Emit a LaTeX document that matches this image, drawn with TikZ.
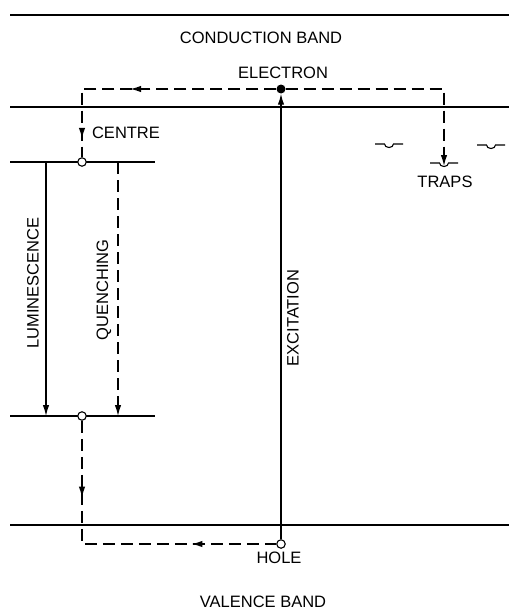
\documentclass[tikz,border=0pt]{standalone}
\usepackage{fontspec}
\setmainfont{Liberation Sans}
\usetikzlibrary{arrows.meta,decorations.markings}

\tikzset{
  band/.style={line width=1.4pt},
  jump/.style={line width=1.4pt, dash pattern=on 12pt off 6pt},
  lbl/.style={font=\fontsize{16.5}{19}\selectfont, inner sep=0pt},
  tip/.style={-{Latex[length=11pt,width=6.5pt]}},
  midtip/.style={postaction={decorate, decoration={markings,
      mark=at position #1 with {\arrow{Latex[length=11pt,width=6.5pt]}}}}},
  midback/.style={postaction={decorate, decoration={markings,
      mark=at position #1 with {\arrowreversed{Latex[length=11pt,width=6.5pt]}}}}},
  level/.style={circle, draw, fill=white, line width=1.1pt, inner sep=0pt, minimum size=8.5pt},
  electron/.style={circle, fill, inner sep=0pt, minimum size=9pt},
  trapline/.style={line width=1.1pt}
}

\begin{document}
\begin{tikzpicture}[x=1pt, y=-1pt]
\useasboundingbox (0,0) rectangle (509,613);

% Bandes
\draw[band] (10,15) -- (509,15);
\draw[band] (10,107) -- (509,107);
\draw[band] (10,525) -- (509,525);

% Niveaux du centre
\draw[band] (10,162) -- (155,162);
\draw[band] (10,416) -- (155,416);

% Pieges
\foreach \tx/\ty in {389/144, 444/163, 491/145} {
  \draw[trapline] (\tx-14,\ty) -- (\tx-4.5,\ty) arc (180:0:4.5 and 3.5) -- (\tx+14,\ty);
}

% Etats
\node[electron] (el) at (281,89) {};
\node[level] (hole) at (281,544) {};
\node[level] (cup) at (82,162) {};
\node[level] (clow) at (82,416) {};
\coordinate (trap) at (444,166);
\coordinate (lumtop) at (46,162);
\coordinate (lumbot) at (46,416);
\coordinate (quetop) at (118,162);
\coordinate (quebot) at (118,416);

% Transitions
\draw[band, tip] (hole) -- (el);
\draw[jump, midtip=0.557, midtip=0.93] (el) -| (cup);
\draw[jump, tip] (el) -| (trap);
\draw[band, tip] (lumtop) -- (lumbot);
\draw[jump, tip] (quetop) -- (quebot);
\draw[jump, midtip=0.242, midback=0.733] (clow) |- (hole);

% Textes
\node[lbl] (cb) at (261,38) {CONDUCTION BAND};
\node[lbl] (elab) at (283,73) {ELECTRON};
\node[lbl] (centre) at (126,133) {CENTRE};
\node[lbl] (traps) at (445,182) {TRAPS};
\node[lbl, rotate=90] (lum) at (33,283) {LUMINESCENCE};
\node[lbl, rotate=90] (que) at (104,290) {QUENCHING};
\node[lbl, rotate=90] (exc) at (293,318) {EXCITATION};
\node[lbl] (holab) at (279,558) {HOLE};
\node[lbl] (vb) at (263,602) {VALENCE BAND};

\end{tikzpicture}
\end{document}
